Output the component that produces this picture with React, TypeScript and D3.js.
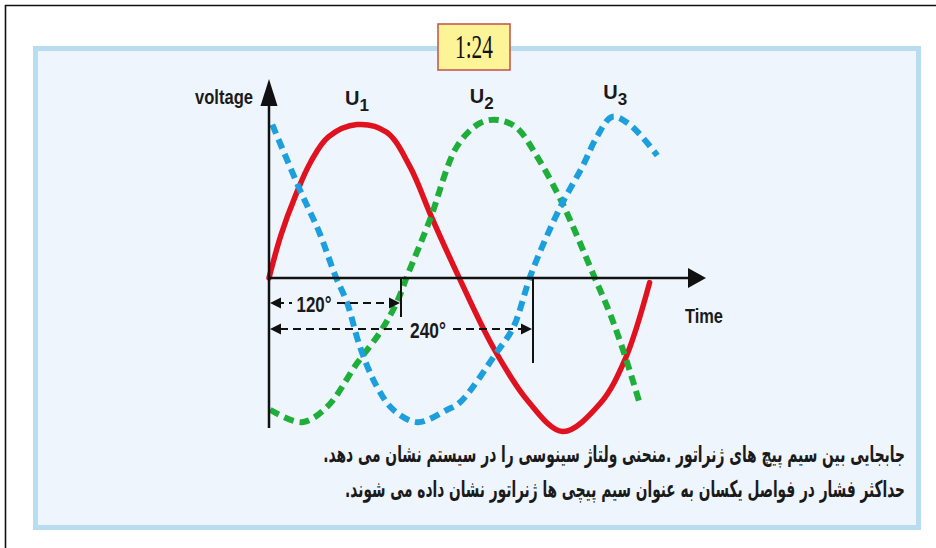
import React, { useLayoutEffect, useRef, useState } from "react";
import * as d3 from "d3";

// Phase angle (degrees) vs normalised voltage
const u1Points: [number, number][] = [
  [0, 0], [11, 0.28], [24, 0.53], [38, 0.75], [54, 0.91], [80, 0.99], [107, 0.94],
  [128, 0.72], [148, 0.39], [171, 0.03], [204, -0.45], [235, -0.79], [267, -0.99],
  [301, -0.81], [324, -0.52], [346, -0.03],
];
const u2Points: [number, number][] = [
  [1, -0.85], [30, -0.93], [53, -0.83], [80, -0.55], [101, -0.35], [116, -0.16],
  [126, 0.02], [146, 0.37], [171, 0.85], [192, 1.0], [208, 1.02], [225, 0.97],
  [244, 0.78], [262, 0.55], [274, 0.37], [295, 0.02], [310, -0.23], [324, -0.51], [337, -0.81],
];
const u3Points: [number, number][] = [
  [3, 0.99], [28, 0.57], [46, 0.29], [60, 0.02], [71, -0.16], [83, -0.45], [98, -0.7],
  [113, -0.85], [135, -0.93], [162, -0.85], [174, -0.8], [207, -0.48], [222, -0.32],
  [239, 0.04], [265, 0.46], [285, 0.72], [298, 0.91], [312, 1.04], [328, 0.99], [353, 0.79],
];
const seriesNames = ["U", "U", "U"];
const seriesSubs = ["1", "2", "3"];
const angleMarks = [120, 240];
const angleLabels = ["120°", "240°"];
const title = "1:24";
const yLabel = "voltage";
const xLabel = "Time";
const captionLines = [
  "جابجایی بین سیم پیچ های ژنراتور .منحنی ولتاژ سینوسی را در سیستم نشان می دهد.",
  "حداکثر فشار در فواصل یکسان به عنوان سیم پیچی ها ژنراتور نشان داده می شوند.",
];

const W = 936;
const H = 548;

export default function App() {
  const x = d3.scaleLinear().domain([0, 360]).range([269, 665]);
  const y = d3.scaleLinear().domain([-1, 1]).range([433, 123]);
  const line = d3
    .line<[number, number]>()
    .x((d) => x(d[0]))
    .y((d) => y(d[1]))
    .curve(d3.curveCatmullRom.alpha(0.5));

  const x0 = x(0);
  const y0 = y(0);
  const sans = "'Liberation Sans', Arial, sans-serif";

  const peaks = [u1Points, u2Points, u3Points].map((pts) =>
    pts.reduce((a, b) => (b[1] > a[1] ? b : a))
  );
  const labelDx = [-12, -28, -9];
  const labelDy = [-20, -17, -18];

  const markY = [303, 329];
  const markBottom = [317, 363];
  const labelCenter = [314, 428];
  const labelW = [35, 36];
  const dashSegs = [
    [[276, 292], [337, 394]],
    [[280, 403], [453, 521]],
  ];

  const capTargets = [582, 560];
  const capRefs = useRef<(SVGTextElement | null)[]>([]);
  const [capScale, setCapScale] = useState<number[]>([0.6, 0.6]);
  useLayoutEffect(() => {
    const s = capRefs.current.map((el, i) => {
      if (!el) return 0.6;
      const w = el.getComputedTextLength();
      return w > 0 ? capTargets[i] / w : 0.6;
    });
    setCapScale(s);
  }, []);

  return (
    <svg
      width={W}
      height={H}
      style={{ position: "absolute", left: 0, top: 0, background: "#fff" }}
    >
      {/* outer frame */}
      <line x1={5} y1={5.5} x2={W} y2={5.5} stroke="#111" strokeWidth={1.6} />
      <line x1={5.5} y1={5} x2={5.5} y2={H} stroke="#111" strokeWidth={1.6} />

      {/* panel */}
      <rect x={35.5} y={48.5} width={883} height={479} fill="#eef5fc" stroke="#b8dcf0" strokeWidth={5} />

      {/* title box */}
      <rect x={438} y={24} width={72} height={46} fill="#fdf497" stroke="#c65a52" strokeWidth={1.6} />
      <text
        x={474}
        y={58}
        textAnchor="middle"
        fontFamily="'Liberation Serif', 'Times New Roman', serif"
        fontSize={34}
        textLength={38}
        lengthAdjust="spacingAndGlyphs"
        fill="#111"
      >
        {title}
      </text>

      {/* curves */}
      <path d={line(u1Points) || ""} fill="none" stroke="#e1121f" strokeWidth={5.5} strokeLinecap="round" />
      <path d={line(u2Points) || ""} fill="none" stroke="#1fae3a" strokeWidth={6} strokeDasharray="10 6" />
      <path d={line(u3Points) || ""} fill="none" stroke="#1c9fdc" strokeWidth={6} strokeDasharray="10 6" />

      {/* axes */}
      <line x1={x0} y1={428} x2={x0} y2={100} stroke="#111" strokeWidth={2.5} />
      <path d={`M${x0},79 L${x0 - 8.5},106 L${x0 + 8.5},106 Z`} fill="#111" />
      <line x1={x0} y1={y0} x2={690} y2={y0} stroke="#111" strokeWidth={2.5} />
      <path d={`M706,${y0} L688,${y0 - 10} L688,${y0 + 10} Z`} fill="#111" />

      <text x={195} y={104} fontFamily={sans} fontWeight="bold" fontSize={20} textLength={58} lengthAdjust="spacingAndGlyphs" fill="#1a1a1a">
        {yLabel}
      </text>
      <text x={685} y={323} fontFamily={sans} fontWeight="bold" fontSize={21} textLength={38} lengthAdjust="spacingAndGlyphs" fill="#1a1a1a">
        {xLabel}
      </text>

      {/* series labels */}
      {peaks.map((p, i) => (
        <text key={i} x={x(p[0]) + labelDx[i]} y={y(p[1]) + labelDy[i]} fontFamily={sans} fontWeight="bold" fontSize={20} fill="#1a1a1a">
          {seriesNames[i]}
          <tspan dy={6} fontSize={17}>{seriesSubs[i]}</tspan>
        </text>
      ))}

      {/* angle markers */}
      {angleMarks.map((a, i) => {
        const xt = x(a);
        const my = markY[i];
        return (
          <g key={a}>
            <line x1={xt} y1={y0} x2={xt} y2={markBottom[i]} stroke="#111" strokeWidth={2} />
            {dashSegs[i].map((s, j) => (
              <line key={j} x1={s[0]} y1={my} x2={s[1]} y2={my} stroke="#111" strokeWidth={2.2} strokeDasharray="8 5" />
            ))}
            <path d={`M${x0 + 1},${my} L${x0 + 12},${my - 5.5} L${x0 + 12},${my + 5.5} Z`} fill="#111" />
            <path d={`M${xt - 1},${my} L${xt - 12},${my - 5.5} L${xt - 12},${my + 5.5} Z`} fill="#111" />
            <text
              x={labelCenter[i]}
              y={my + 9}
              textAnchor="middle"
              fontFamily={sans}
              fontWeight="bold"
              fontSize={22}
              textLength={labelW[i]}
              lengthAdjust="spacingAndGlyphs"
              fill="#1a1a1a"
            >
              {angleLabels[i]}
            </text>
          </g>
        );
      })}

      {/* caption */}
      {captionLines.map((t, i) => (
        <g key={i} transform={`translate(905,${462 + i * 35}) scale(${capScale[i]},1)`}>
          <text
            ref={(el) => {
              capRefs.current[i] = el;
            }}
            x={0}
            y={0}
            direction="rtl"
            style={{ direction: "rtl", unicodeBidi: "embed" }}
            textAnchor="start"
            fontFamily="'DejaVu Sans', sans-serif"
            fontWeight="bold"
            fontSize={23}
            fill="#1a1a1a"
          >
            {t}
          </text>
        </g>
      ))}
    </svg>
  );
}
